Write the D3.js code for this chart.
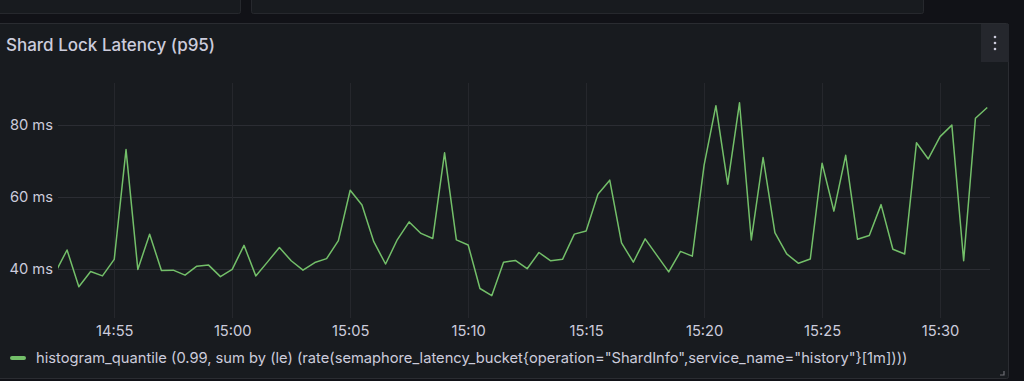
<!DOCTYPE html>
<html>
<head>
<meta charset="utf-8">
<script src="https://cdn.jsdelivr.net/npm/d3@7"></script>
<style>
  html, body { margin: 0; padding: 0; background: #111217; }
  svg { display: block; font-family: Inter, "Noto Sans", sans-serif; }
</style>
</head>
<body>
<div id="chart"></div>
<script>
// Shard lock latency panel (Grafana dark style)
const seriesName = 'histogram_quantile (0.99, sum by (le) (rate(semaphore_latency_bucket{operation="ShardInfo",service_name="history"}[1m])))';
const startTime = "14:52:30";
const stepSeconds = 30;
const latencyMs = [
    39.0, 45.3, 35.1, 39.3, 38.1, 42.7, 73.2, 39.9, 49.7, 39.6,
    39.7, 38.3, 40.8, 41.1, 37.9, 39.9, 46.6, 38.1, 42.0, 46.0,
    42.3, 39.7, 41.8, 42.9, 47.9, 61.9, 57.8, 47.6, 41.4, 48.2,
    53.1, 49.9, 48.5, 72.3, 48.1, 46.7, 34.6, 32.6, 41.9, 42.4,
    40.1, 44.6, 42.3, 42.7, 49.7, 50.6, 60.8, 64.7, 47.3, 41.9,
    48.4, 43.8, 39.2, 44.9, 43.6, 68.9, 85.4, 63.6, 86.2, 48.1,
    71.0, 50.1, 44.2, 41.6, 42.8, 69.4, 56.1, 71.6, 48.3, 49.3,
    57.9, 45.5, 44.2, 75.1, 70.6, 76.8, 80.0, 42.3, 81.9, 84.9
];
const yTicks = [40, 60, 80];
const xTicks = ["14:55", "15:00", "15:05", "15:10", "15:15", "15:20", "15:25", "15:30"];
const xDomain = ["14:52:37", "15:32:07"];
const yDomain = [26.4, 91.7];

const width = 1024;
const height = 381;
const plot = { left: 58, right: 990, top: 83, bottom: 318 };

const parseTime = s => {
    const p = s.split(":").map(Number);
    return new Date(Date.UTC(2024, 0, 1, p[0], p[1], p[2] || 0));
};
const t0 = parseTime(startTime);
const data = latencyMs.map((v, i) => ({ t: new Date(t0.getTime() + i * stepSeconds * 1000), v: v }));

const svg = d3.select("#chart")
    .append("svg")
    .attr("width", width)
    .attr("height", height);

// page background + neighbouring panels
svg.append("rect").attr("width", width).attr("height", height).attr("fill", "#111217");
svg.append("rect").attr("x", -10).attr("y", -10).attr("width", 250.5).attr("height", 23.5)
    .attr("rx", 2).attr("fill", "#181b1f").attr("stroke", "#26282d");
svg.append("rect").attr("x", 251.5).attr("y", -10).attr("width", 672).attr("height", 23.5)
    .attr("rx", 2).attr("fill", "#181b1f").attr("stroke", "#26282d");

// main panel
svg.append("rect").attr("x", -10).attr("y", 23.5).attr("width", 1018.5).attr("height", 355)
    .attr("rx", 2).attr("fill", "#181b1f").attr("stroke", "#2a2c31");

svg.append("text")
    .attr("x", 6)
    .attr("y", 51)
    .attr("fill", "#ccccdc")
    .attr("font-size", 17)
    .attr("font-weight", 500)
    .text("Shard Lock Latency (p95)");

// menu button
svg.append("rect").attr("x", 981).attr("y", 24).attr("width", 28).attr("height", 38)
    .attr("fill", "#25272d");
svg.selectAll(".dot")
    .data([37, 43, 49])
    .enter()
    .append("circle")
    .attr("cx", 995)
    .attr("cy", d => d)
    .attr("r", 1.3)
    .attr("fill", "#ccccdc");

// scales
const x = d3.scaleUtc()
    .domain(xDomain.map(parseTime))
    .range([plot.left, plot.right]);

const y = d3.scaleLinear()
    .domain(yDomain)
    .range([plot.bottom, plot.top]);

// grid
svg.append("g")
    .selectAll("line")
    .data(yTicks)
    .enter()
    .append("line")
    .attr("x1", plot.left)
    .attr("x2", plot.right)
    .attr("y1", d => Math.round(y(d)) + 0.5)
    .attr("y2", d => Math.round(y(d)) + 0.5)
    .attr("stroke", "#2b2d33");

svg.append("g")
    .selectAll("line")
    .data(xTicks.map(parseTime))
    .enter()
    .append("line")
    .attr("x1", d => Math.round(x(d)) + 0.5)
    .attr("x2", d => Math.round(x(d)) + 0.5)
    .attr("y1", plot.top)
    .attr("y2", plot.bottom)
    .attr("stroke", "#25272c");

// axes (text only)
const yAxis = svg.append("g")
    .attr("transform", `translate(${plot.left - 5},0)`)
    .call(d3.axisLeft(y).tickValues(yTicks).tickSize(0).tickPadding(0).tickFormat(d => d + " ms"));
yAxis.select(".domain").remove();
yAxis.selectAll("text").attr("fill", "#ccccdc").attr("font-size", 14.7).attr("font-family", "Inter");

const xAxis = svg.append("g")
    .attr("transform", `translate(0,${plot.bottom + 8})`)
    .call(d3.axisBottom(x).tickValues(xTicks.map(parseTime)).tickSize(0).tickPadding(0)
        .tickFormat(d3.utcFormat("%H:%M")));
xAxis.select(".domain").remove();
xAxis.selectAll("text").attr("fill", "#ccccdc").attr("font-size", 14.7).attr("font-family", "Inter");

// series line
svg.append("clipPath").attr("id", "plot-clip")
    .append("rect")
    .attr("x", plot.left).attr("y", plot.top)
    .attr("width", plot.right - plot.left).attr("height", plot.bottom - plot.top);

svg.append("path")
    .datum(data)
    .attr("clip-path", "url(#plot-clip)")
    .attr("fill", "none")
    .attr("stroke", "#73bf69")
    .attr("stroke-width", 1.5)
    .attr("stroke-linejoin", "round")
    .attr("d", d3.line().x(d => x(d.t)).y(d => y(d.v)));

// legend
svg.append("rect")
    .attr("x", 10).attr("y", 356).attr("width", 16).attr("height", 4).attr("rx", 2)
    .attr("fill", "#73bf69");
svg.append("text")
    .attr("x", 36)
    .attr("y", 363)
    .attr("fill", "#ccccdc")
    .attr("font-size", 14.7)
    .text(seriesName);

// resize handle
svg.append("path")
    .attr("d", "M1004,371 L1004,375 L1000,375")
    .attr("fill", "none")
    .attr("stroke", "#6e6f75")
    .attr("stroke-width", 1.2);
</script>
</body>
</html>
